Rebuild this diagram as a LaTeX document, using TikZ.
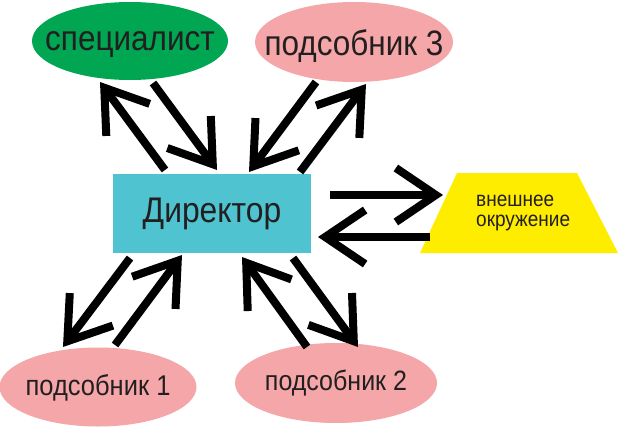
\documentclass[tikz,border=0pt]{standalone}
\usepackage{fontspec}
\setmainfont{Liberation Sans}
\usetikzlibrary{arrows.meta,shapes.geometric}
\definecolor{cgreen}{RGB}{0,166,81}
\definecolor{cpink}{RGB}{244,166,168}
\definecolor{ccyan}{RGB}{79,195,208}
\definecolor{cyellow}{RGB}{255,237,0}
\definecolor{ctext}{RGB}{35,31,32}
\newcommand{\vstr}[1]{\scalebox{1}[1.12]{#1}}
\tikzset{
  oval/.style={ellipse, inner sep=0pt},
  lbl/.style={inner sep=0pt, text=ctext},
  bigarrow/.style={line width=8pt, -{Straight Barb[length=40pt,width=54pt]}},
}
\begin{document}
\begin{tikzpicture}[x=1pt,y=-1pt]
\useasboundingbox[fill=white] (0,0) rectangle (620,428);
\node[oval, fill=cgreen, minimum width=196pt, minimum height=78pt] (spec) at (130,41) {};
\node[lbl, yshift=-4pt, font=\fontsize{31.5}{34}\selectfont] (tspec) at (spec) {\vstr{специалист}};
\node[oval, fill=cpink, minimum width=198pt, minimum height=80pt] (p3) at (354,42) {};
\node[lbl, yshift=-4pt, font=\fontsize{31.5}{34}\selectfont] (tp3) at (p3) {\vstr{подсобник 3}};
\node[oval, fill=cpink, minimum width=197pt, minimum height=79pt] (p1) at (98,387) {};
\node[lbl, yshift=-1pt, font=\fontsize{25.5}{28}\selectfont] (tp1) at (p1) {\vstr{подсобник 1}};
\node[oval, fill=cpink, minimum width=202pt, minimum height=80pt] (p2) at (336,383) {};
\node[lbl, font=\fontsize{25}{28}\selectfont] (tp2) at (p2) {\vstr{подсобник 2}};
\node[rectangle, fill=ccyan, text=ctext, minimum width=198pt, minimum height=79pt, inner sep=0pt, font=\fontsize{31.8}{34}\selectfont] (dir) at (212,213.5) {\vstr{Директор}};
\fill[cyellow] (457,173) -- (577,173) -- (618,253) -- (420,253) -- cycle;
\node[lbl, align=left, anchor=west, font=\fontsize{19}{20}\selectfont] (env) at (476,213) {\vstr{внешнее}\\\vstr{окружение}};
% arrows
\coordinate (a1) at (165,170); \coordinate (a2) at (100,82);
\coordinate (b1) at (153,83);  \coordinate (b2) at (217,170);
\coordinate (c1) at (316,82);  \coordinate (c2) at (249,172);
\coordinate (d1) at (300,172); \coordinate (d2) at (366,84);
\coordinate (e1) at (330,195); \coordinate (e2) at (443,195);
\coordinate (f1) at (430,237); \coordinate (f2) at (318,237);
\coordinate (g1) at (130,258); \coordinate (g2) at (63,347);
\coordinate (h1) at (115,345); \coordinate (h2) at (182,255);
\coordinate (i1) at (307,347); \coordinate (i2) at (242,257);
\coordinate (j1) at (293,258); \coordinate (j2) at (358,347);
\foreach \s in {a,b,c,d,e,f,g,h,i,j}{\draw[bigarrow] (\s1) -- (\s2);}
\end{tikzpicture}
\end{document}
